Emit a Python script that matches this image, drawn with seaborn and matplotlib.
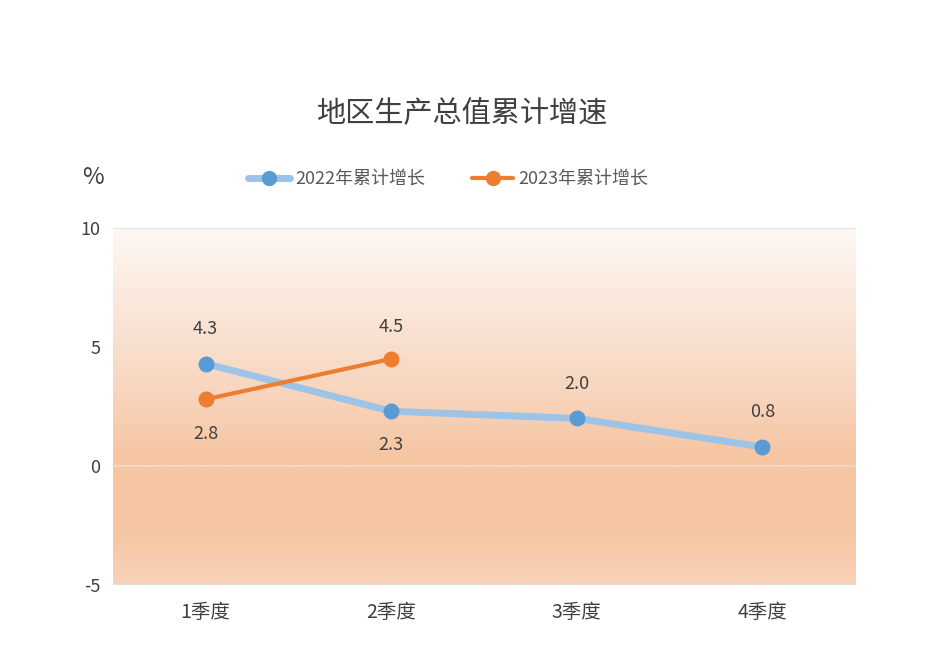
import numpy as np
import pandas as pd
import matplotlib
matplotlib.use("Agg")
import matplotlib.pyplot as plt
import seaborn as sns
from matplotlib.colors import LinearSegmentedColormap
from matplotlib.lines import Line2D

sns.set_style("white")
plt.rcParams['font.family'] = ['Noto Sans CJK SC', 'DejaVu Sans']

categories = ["1季度", "2季度", "3季度", "4季度"]
growth_2022 = [4.3, 2.3, 2.0, 0.8]
growth_2023 = [2.8, 4.5]
series_names = ["2022年累计增长", "2023年累计增长"]
yticks = [-5, 0, 5, 10]
title = "地区生产总值累计增速"

df = pd.concat([
    pd.DataFrame({"季度": categories, "增长": growth_2022, "系列": series_names[0]}),
    pd.DataFrame({"季度": categories[:len(growth_2023)], "增长": growth_2023, "系列": series_names[1]}),
])

fig = plt.figure(figsize=(9.48, 6.66), dpi=100)
ax = fig.add_axes([0.119, 0.1216, 0.783, 0.5361])

# gradient background
cmap = LinearSegmentedColormap.from_list(
    "bg", [(0.0, "#f8d2b8"), (0.15, "#f6c6a3"), (0.35, "#f6c5a2"), (0.55, "#f8d6bf"),
           (0.8, "#fbe8dc"), (1.0, "#fdf8f4")])
grad = np.linspace(0, 1, 256).reshape(-1, 1)
ax.imshow(grad, aspect="auto", cmap=cmap, origin="lower",
          extent=[-0.5, 3.5, -5, 10], zorder=0)

for y in yticks:
    ax.axhline(y, color="#e6dedb", lw=1.2, zorder=1)

sns.lineplot(data=df[df["系列"] == series_names[0]], x="季度", y="增长", ax=ax,
             color="#9dc3e6", lw=5, sort=False, zorder=3, legend=False)
sns.lineplot(data=df[df["系列"] == series_names[1]], x="季度", y="增长", ax=ax,
             color="#ed7d31", lw=3, sort=False, zorder=4, legend=False)
ax.scatter(categories, growth_2022, s=110, color="#5b9bd5", zorder=5)
ax.scatter(categories[:len(growth_2023)], growth_2023, s=110, color="#ed7d31", zorder=6)

# labels
label_pos_2022 = ["above", "below", "above", "above"]
for i, (c, v) in enumerate(zip(categories, growth_2022)):
    off = 1.45 if label_pos_2022[i] == "above" else -1.4
    ax.text(i, v + off, f"{v:.1f}", ha="center", va="center", fontsize=13, color="#404040", zorder=7)
label_pos_2023 = ["below", "above"]
for i, v in enumerate(growth_2023):
    off = 1.35 if label_pos_2023[i] == "above" else -1.45
    ax.text(i, v + off, f"{v:.1f}", ha="center", va="center", fontsize=13, color="#404040", zorder=7)

ax.set_xlim(-0.5, 3.5)
ax.set_ylim(-5, 10)
ax.set_yticks(yticks)
ax.set_yticklabels([str(t) for t in yticks], fontsize=13, color="#404040")
ax.set_xticks(range(len(categories)))
ax.set_xticklabels(categories, fontsize=14, color="#404040")
ax.tick_params(axis="x", pad=12, length=0)
ax.tick_params(axis="y", pad=9, length=0)
for s in ax.spines.values():
    s.set_visible(False)
ax.set_xlabel("")
ax.set_ylabel("")

fig.text(0.487, 0.828, title, ha="center", va="center", fontsize=21, color="#404040")
fig.text(0.098, 0.733, "%", ha="center", va="center", fontsize=17, color="#404040")

h1 = Line2D([], [], color="#9dc3e6", lw=5, marker="o", markersize=10,
            markerfacecolor="#5b9bd5", markeredgecolor="#5b9bd5")
h2 = Line2D([], [], color="#ed7d31", lw=3, marker="o", markersize=10,
            markerfacecolor="#ed7d31", markeredgecolor="#ed7d31")
fig.legend([h1, h2], series_names, loc="center", bbox_to_anchor=(0.473, 0.731),
           ncol=2, frameon=False, fontsize=13, handlelength=2.3, handletextpad=0.3,
           columnspacing=2.6, labelcolor="#595959")

fig.savefig("out.png", dpi=100, facecolor="white")
